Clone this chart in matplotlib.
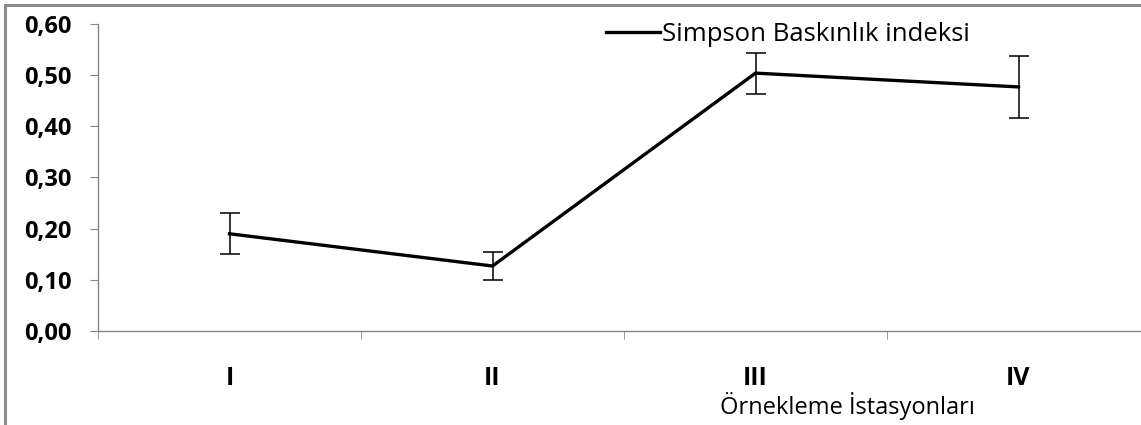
import matplotlib
matplotlib.use("Agg")
import matplotlib.pyplot as plt
from matplotlib.patches import Rectangle
from matplotlib.lines import Line2D
from matplotlib.ticker import FixedLocator, FuncFormatter

# data
stations = ["I", "II", "III", "IV"]
simpson = [0.190, 0.127, 0.504, 0.477]
errors = [0.040, 0.028, 0.040, 0.060]
y_ticks = [0.0, 0.1, 0.2, 0.3, 0.4, 0.5, 0.6]

plt.rcParams["font.family"] = ["Open Sans", "DejaVu Sans"]

fig = plt.figure(figsize=(11.41, 4.25), dpi=100)

# outer gray frame (right and bottom edges are cropped off)
fig.patches.append(Rectangle((5 / 1141, -0.1), 1.2, 1 - 5 / 425 + 0.1,
                             transform=fig.transFigure, fill=False,
                             edgecolor="#8c8c8c", linewidth=2.2))

ax = fig.add_axes([98 / 1141, 1 - 331 / 425, 1052 / 1141, 307 / 425])

x = list(range(len(stations)))
ax.errorbar(x, simpson, yerr=errors, color="black", linewidth=2.4,
            ecolor="black", elinewidth=1.1, capsize=7, capthick=1.1)

ax.set_xlim(-0.5, len(stations) - 0.5)
ax.set_ylim(0, 0.6)
ax.set_yticks(y_ticks)
ax.yaxis.set_major_formatter(FuncFormatter(lambda v, _: f"{v:.2f}".replace(".", ",")))

ax.set_xticks(x)
ax.set_xticklabels(stations)
ax.xaxis.set_minor_locator(FixedLocator([i - 0.5 for i in range(len(stations) + 1)]))
ax.tick_params(axis="x", which="major", length=0, pad=25, labelsize=18)
ax.tick_params(axis="x", which="minor", length=6, color="#868686", direction="out")
ax.tick_params(axis="y", length=6, color="#868686", direction="out", pad=13, labelsize=17)
for lbl in ax.get_xticklabels() + ax.get_yticklabels():
    lbl.set_fontweight("bold")

ax.spines[["top", "right"]].set_visible(False)
ax.spines[["left", "bottom"]].set_color("#868686")
ax.spines[["left", "bottom"]].set_linewidth(1.0)

fig.text(847 / 1141, 1 - 414 / 425, "Örnekleme İstasyonları", fontsize=17,
         ha="center", va="baseline")

handle = Line2D([], [], color="black", linewidth=2.4)
ax.legend([handle], ["Simpson Baskınlık indeksi"], loc="upper left",
          bbox_to_anchor=(498 / 1052, 1.04), frameon=False,
          fontsize=18.5, handlelength=2.1, handletextpad=0.05, borderaxespad=0)

fig.savefig("out.png", dpi=100)
